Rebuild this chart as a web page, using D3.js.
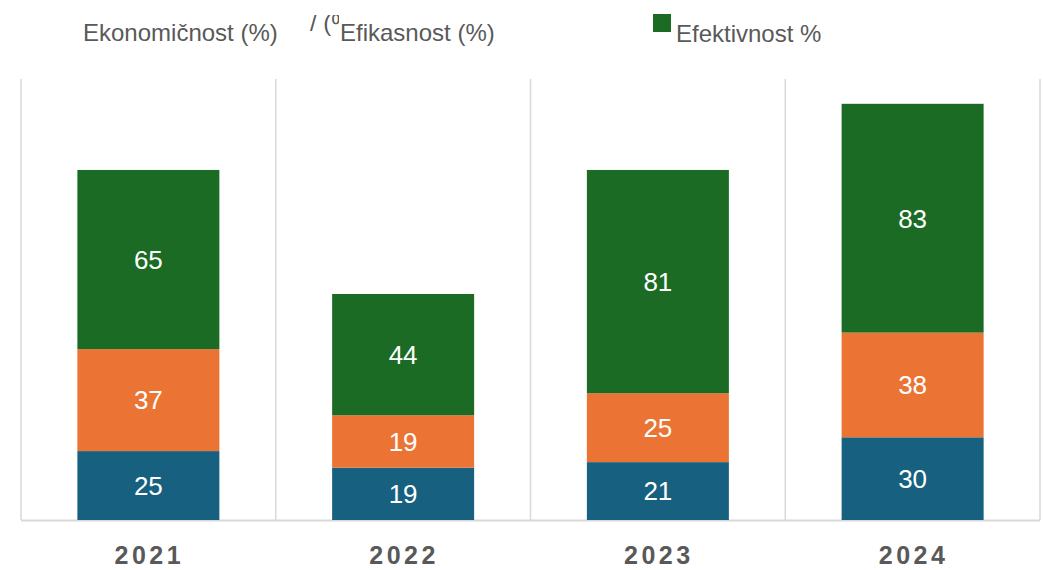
<!DOCTYPE html>
<html>
<head>
<meta charset="utf-8">
<script src="https://cdn.jsdelivr.net/npm/d3@7"></script>
<style>
  body { margin: 0; background: #fff; }
  svg { display: block; font-family: "Liberation Sans", Arial, sans-serif; }
</style>
</head>
<body>
<div id="chart"></div>
<script>
// Stacked bars per year
const years = ["2021", "2022", "2023", "2024"];
const series = ["Ekonomičnost (%)", "Efikasnost (%)", "Efektivnost %"];
const ekonomicnost = [25, 19, 21, 30];
const efikasnost = [37, 19, 25, 38];
const efektivnost = [65, 44, 81, 83];
const colors = ["#17607f", "#eb7434", "#1b6b24"];

const width = 1043;
const height = 570;
const margin = { top: 79, right: 3, bottom: 50, left: 21 };

const svg = d3.select("#chart")
    .append("svg")
    .attr("width", width)
    .attr("height", height);

const x = d3.scaleBand()
    .domain(years)
    .range([margin.left, width - margin.right])
    .paddingInner(0)
    .paddingOuter(0);

const y = d3.scaleLinear()
    .domain([0, 160])
    .range([height - margin.bottom, margin.top]);

// category separators
const bounds = years.map(d => x(d)).concat([x.range()[1]]);
svg.selectAll("line.grid")
    .data(bounds)
    .enter()
    .append("line")
    .attr("class", "grid")
    .attr("x1", d => d)
    .attr("x2", d => d)
    .attr("y1", margin.top)
    .attr("y2", height - margin.bottom)
    .attr("stroke", "#d9d9d9")
    .attr("stroke-width", 1.5);

svg.append("line")
    .attr("x1", margin.left)
    .attr("x2", width - margin.right)
    .attr("y1", height - margin.bottom + 0.5)
    .attr("y2", height - margin.bottom + 0.5)
    .attr("stroke", "#d9d9d9")
    .attr("stroke-width", 2);

const rows = years.map((yr, i) => ({
    year: yr,
    s0: ekonomicnost[i],
    s1: efikasnost[i],
    s2: efektivnost[i]
}));
const stacked = d3.stack().keys(["s0", "s1", "s2"])(rows);

const barW = 142;
const layers = svg.selectAll("g.layer")
    .data(stacked)
    .enter()
    .append("g")
    .attr("class", "layer")
    .attr("fill", (d, i) => colors[i]);

layers.selectAll("rect")
    .data(d => d)
    .enter()
    .append("rect")
    .attr("x", d => x(d.data.year) + x.bandwidth() / 2 - barW / 2)
    .attr("width", barW)
    .attr("y", d => y(d[1]))
    .attr("height", d => y(d[0]) - y(d[1]));

layers.selectAll("text")
    .data(d => d)
    .enter()
    .append("text")
    .attr("x", d => x(d.data.year) + x.bandwidth() / 2)
    .attr("y", d => (y(d[0]) + y(d[1])) / 2)
    .attr("dy", "0.36em")
    .attr("text-anchor", "middle")
    .attr("fill", "#fff")
    .attr("font-size", "26px")
    .text(d => d[1] - d[0]);

// year labels
svg.selectAll("text.year")
    .data(years)
    .enter()
    .append("text")
    .attr("class", "year")
    .attr("x", d => x(d) + x.bandwidth() / 2 + 1)
    .attr("y", 564)
    .attr("text-anchor", "middle")
    .attr("font-size", "25px")
    .attr("font-weight", "bold")
    .attr("letter-spacing", "3.5px")
    .attr("fill", "#595959")
    .text(d => d);

// legend (as it appears, with the overlapped fragment)
const clip = svg.append("defs").append("clipPath").attr("id", "frag");
clip.append("rect").attr("x", 309).attr("y", 15).attr("width", 23).attr("height", 21);
clip.append("rect").attr("x", 332).attr("y", 15).attr("width", 7).attr("height", 11);

svg.append("text")
    .attr("x", 310)
    .attr("y", 31)
    .attr("clip-path", "url(#frag)")
    .attr("font-size", "24px")
    .attr("fill", "#595959")
    .text("/ (%");

svg.append("text")
    .attr("x", 83)
    .attr("y", 41)
    .attr("font-size", "24px")
    .attr("fill", "#595959")
    .text(series[0]);

svg.append("text")
    .attr("x", 340)
    .attr("y", 41)
    .attr("font-size", "24px")
    .attr("fill", "#595959")
    .text(series[1]);

svg.append("rect")
    .attr("x", 653)
    .attr("y", 14)
    .attr("width", 18)
    .attr("height", 18)
    .attr("fill", colors[2]);

svg.append("text")
    .attr("x", 676)
    .attr("y", 42)
    .attr("font-size", "24px")
    .attr("fill", "#595959")
    .text(series[2]);
</script>
</body>
</html>
